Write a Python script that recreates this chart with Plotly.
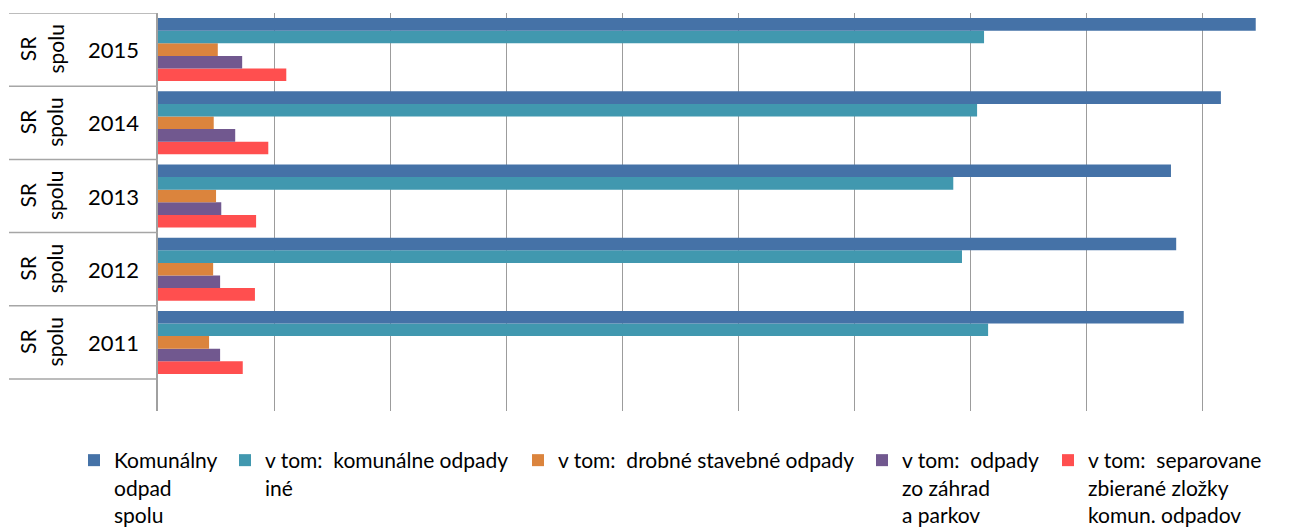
import plotly.graph_objects as go

years = ["2011", "2012", "2013", "2014", "2015"]
group_label = "SR<br>spolu"

series_names = [
    "Komunálny<br>odpad<br>spolu",
    "v tom:  komunálne odpady<br>iné",
    "v tom:  drobné stavebné odpady",
    "v tom:  odpady<br>zo záhrad<br>a parkov",
    "v tom:  separovane<br>zbierané zložky<br>komun. odpadov",
]
komunalny_spolu = [1767, 1754, 1745, 1831, 1891]
komunalne_ine = [1430, 1385, 1370, 1411, 1423]
drobne_stavebne = [88, 95, 100, 96, 103]
zahrady_parky = [107, 107, 109, 133, 145]
separovane = [146, 167, 169, 190, 221]
series_values = [komunalny_spolu, komunalne_ine, drobne_stavebne, zahrady_parky, separovane]
colors = ["#4572A7", "#4198AF", "#DB843D", "#71588F", "#FF4F4F"]

FONT = "Lato"
W, H = 1310, 529
ML, MR, MT, MB = 158, 1, 13, 118
pw = W - ML - MR
ph = H - MT - MB

def px_x(px):
    return (px - ML) / pw

def px_y(py):
    return (H - MB - py) / ph

fig = go.Figure()
legend_text_x = [116, 267, 560, 904, 1090]
# add bottom-most bar first (red), top-most (blue) last
for i in reversed(range(5)):
    lg = "legend" if i == 0 else f"legend{i+1}"
    fig.add_trace(go.Bar(
        y=years, x=series_values[i], orientation="h", name=series_names[i],
        marker=dict(color=colors[i], line=dict(width=0)),
        legend=lg, showlegend=True,
    ))

layout_legends = {}
for i in range(5):
    key = "legend" if i == 0 else f"legend{i+1}"
    layout_legends[key] = dict(
        x=px_x(legend_text_x[i] - 42), y=px_y(440), xanchor="left", yanchor="top",
        orientation="h", valign="top", bgcolor="rgba(0,0,0,0)",
        font=dict(family=FONT, size=21, color="#000000"),
        itemclick=False, itemdoubleclick=False,
    )

shapes = []
for b in [4.5, 3.5, 2.5, 1.5, 0.5, -0.5]:
    shapes.append(dict(type="line", xref="paper", yref="y", x0=px_x(9), x1=0, y0=b, y1=b,
                       line=dict(color="#A6A6A6", width=1.5)))

annotations = []
for idx, yv in enumerate(years):
    annotations.append(dict(x=px_x(113), y=idx, xref="paper", yref="y", text=yv, showarrow=False,
                            font=dict(family=FONT, size=22, color="#000000"), xanchor="center", yanchor="middle"))
    annotations.append(dict(x=px_x(41), y=idx, xref="paper", yref="y", text=group_label, showarrow=False,
                            textangle=-90, font=dict(family=FONT, size=21, color="#000000"),
                            xanchor="center", yanchor="middle", align="center"))

fig.update_layout(
    width=W, height=H,
    margin=dict(l=ML, r=MR, t=MT, b=MB, autoexpand=False),
    paper_bgcolor="white", plot_bgcolor="white",
    barmode="group", bargap=0.14, bargroupgap=0,
    xaxis=dict(range=[0, pw / 116.1 * 200], dtick=200, tick0=0, showgrid=True, gridcolor="#9C9C9C",
               gridwidth=1, showticklabels=False, zeroline=False, showline=False, ticks=""),
    yaxis=dict(type="category", categoryorder="array", categoryarray=years,
               range=[4.5 - ph / 73.2, 4.5], showticklabels=False, showgrid=False,
               showline=True, linecolor="#A0A0A0", linewidth=1.5, zeroline=False, ticks=""),
    shapes=shapes, annotations=annotations,
    **layout_legends,
)

fig.write_html("out.html", config={"displayModeBar": False},
               post_script="document.body.style.margin='0';document.body.style.overflow='hidden';")
